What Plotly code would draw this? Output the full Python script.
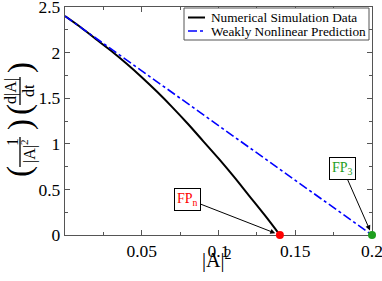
import plotly.graph_objects as go

# ---- data ----
sim_x = [0.00, 0.01, 0.02, 0.03, 0.04, 0.05, 0.06, 0.07, 0.08, 0.09, 0.10, 0.11, 0.12, 0.13, 0.14]
sim_y = [2.40, 2.28, 2.15, 2.02, 1.88, 1.73, 1.57, 1.40, 1.22, 1.03, 0.84, 0.64, 0.43, 0.22, 0.00]
wnl_x = [0.0, 0.2]
wnl_y = [2.4, 0.0]
fp_x = [0.14, 0.2]
fp_y = [0.0, 0.0]
fp_labels = ["FP<sub>n</sub>", "FP<sub>3</sub>"]
fp_colors = ["#ff0000", "#1e9e1e"]
series_names = ["Numerical Simulation Data", "Weakly Nonlinear Prediction"]
xtick_vals = [0.05, 0.1, 0.15, 0.2]
xtick_text = ["0.05", "0.1", "0.15", "0.2"]
ytick_vals = [0, 0.5, 1, 1.5, 2, 2.5]
ytick_text = ["0", "0.5", "1", "1.5", "2", "2.5"]

W, H = 382, 281
L, R, T, B = 65, 10, 7, 46
PW, PH = W - L - R, H - T - B
FONT = "Liberation Serif, Times New Roman, serif"
AXC = "#555555"


def px(x):
    return (x - L) / PW


def py(y):
    return (H - B - y) / PH


fig = go.Figure()
fig.add_trace(go.Scatter(x=sim_x, y=sim_y, mode="lines", name=series_names[0],
                         line=dict(color="black", width=2, shape="spline"),
                         showlegend=False))
fig.add_trace(go.Scatter(x=wnl_x, y=wnl_y, mode="lines", name=series_names[1],
                         line=dict(color="#0000ff", width=1.6, dash="dashdot"),
                         showlegend=False))
fig.add_trace(go.Scatter(x=fp_x, y=fp_y, mode="markers",
                         marker=dict(color=fp_colors, size=8, line=dict(width=0)),
                         cliponaxis=False, showlegend=False))

shapes = []
annotations = []

# manual legend
shapes.append(dict(type="rect", xref="paper", yref="paper",
                   x0=px(184), x1=px(369), y0=py(40), y1=py(8),
                   line=dict(color=AXC, width=1), fillcolor="white", layer="above"))
shapes.append(dict(type="line", xref="paper", yref="paper",
                   x0=px(188), x1=px(205), y0=py(17.5), y1=py(17.5),
                   line=dict(color="black", width=2), layer="above"))
shapes.append(dict(type="line", xref="paper", yref="paper",
                   x0=px(188), x1=px(205), y0=py(31), y1=py(31),
                   line=dict(color="#0000ff", width=1.6, dash="dashdot"), layer="above"))
for name, yy in zip(series_names, [17.5, 31]):
    annotations.append(dict(xref="paper", yref="paper", x=px(209), y=py(yy),
                            xanchor="left", yanchor="middle", showarrow=False,
                            text=name, font=dict(family=FONT, size=13.3, color="black")))

# fixed point labels with arrows
label_pos = [(187.5, 199), (342.5, 168)]
for (lx, ly), xv, yv, txt, col in zip(label_pos, fp_x, fp_y, fp_labels, fp_colors):
    hx = L + xv / 0.2 * PW
    hy = H - B - yv / 2.5 * PH
    annotations.append(dict(x=xv, y=yv, xref="x", yref="y", text=txt,
                            showarrow=True, arrowhead=2, arrowsize=1, arrowwidth=1,
                            arrowcolor="black", standoff=5,
                            ax=lx - hx, ay=ly - hy, axref="pixel", ayref="pixel",
                            font=dict(family=FONT, size=14, color=col),
                            bordercolor="black", borderwidth=1, borderpad=2,
                            bgcolor="white"))

# x axis title
annotations.append(dict(xref="paper", yref="paper", x=px(216), y=py(259),
                        xanchor="center", yanchor="middle", showarrow=False,
                        text="|A|<sup>2</sup>", font=dict(family=FONT, size=20, color="black")))

# y axis title built from rotated pieces
ypieces = [
    ("(", 20, 172, 33),
    ("1", 12, 142, 16),
    ("|A|<sup>2</sup>", 28, 151, 16),
    (")", 20, 125, 33),
    ("(", 20, 110, 33),
    ("d|A|", 11, 91, 16),
    ("dt", 28, 91, 16),
    (")", 20, 68, 33),
]
for txt, xx, yy, fs in ypieces:
    annotations.append(dict(xref="paper", yref="paper", x=px(xx), y=py(yy),
                            xanchor="center", yanchor="middle", showarrow=False,
                            textangle=-90, text=txt,
                            font=dict(family=FONT, size=fs, color="black")))
for y0, y1 in [(137, 167), (77, 105)]:
    shapes.append(dict(type="line", xref="paper", yref="paper",
                       x0=px(20), x1=px(20), y0=py(y0), y1=py(y1),
                       line=dict(color="black", width=1.3)))

axis_common = dict(showgrid=False, zeroline=False, showline=True, linecolor=AXC,
                   linewidth=1.3, mirror="allticks", ticks="inside", ticklen=5,
                   tickwidth=1, tickcolor=AXC, layer="below traces",
                   ticklabeloverflow="allow", automargin=False,
                   tickfont=dict(family=FONT, size=17.5, color="black"))

fig.update_layout(
    width=W, height=H, autosize=False, margin=dict(l=L, r=R, t=T, b=B, pad=0, autoexpand=False),
    paper_bgcolor="white", plot_bgcolor="white",
    font=dict(family=FONT),
    xaxis=dict(range=[0, 0.2], tickvals=xtick_vals, ticktext=xtick_text,
               minor=dict(ticks="inside", ticklen=3, dtick=0.025, tick0=0, tickcolor=AXC),
               **axis_common),
    yaxis=dict(range=[0, 2.5], tickvals=ytick_vals, ticktext=ytick_text,
               minor=dict(ticks="inside", ticklen=3, dtick=0.25, tick0=0, tickcolor=AXC),
               **axis_common),
    shapes=shapes, annotations=annotations, showlegend=False,
)

fig.write_html("out.html", config={"displayModeBar": False},
               post_script="document.body.style.margin='0';document.body.style.overflow='hidden';")
